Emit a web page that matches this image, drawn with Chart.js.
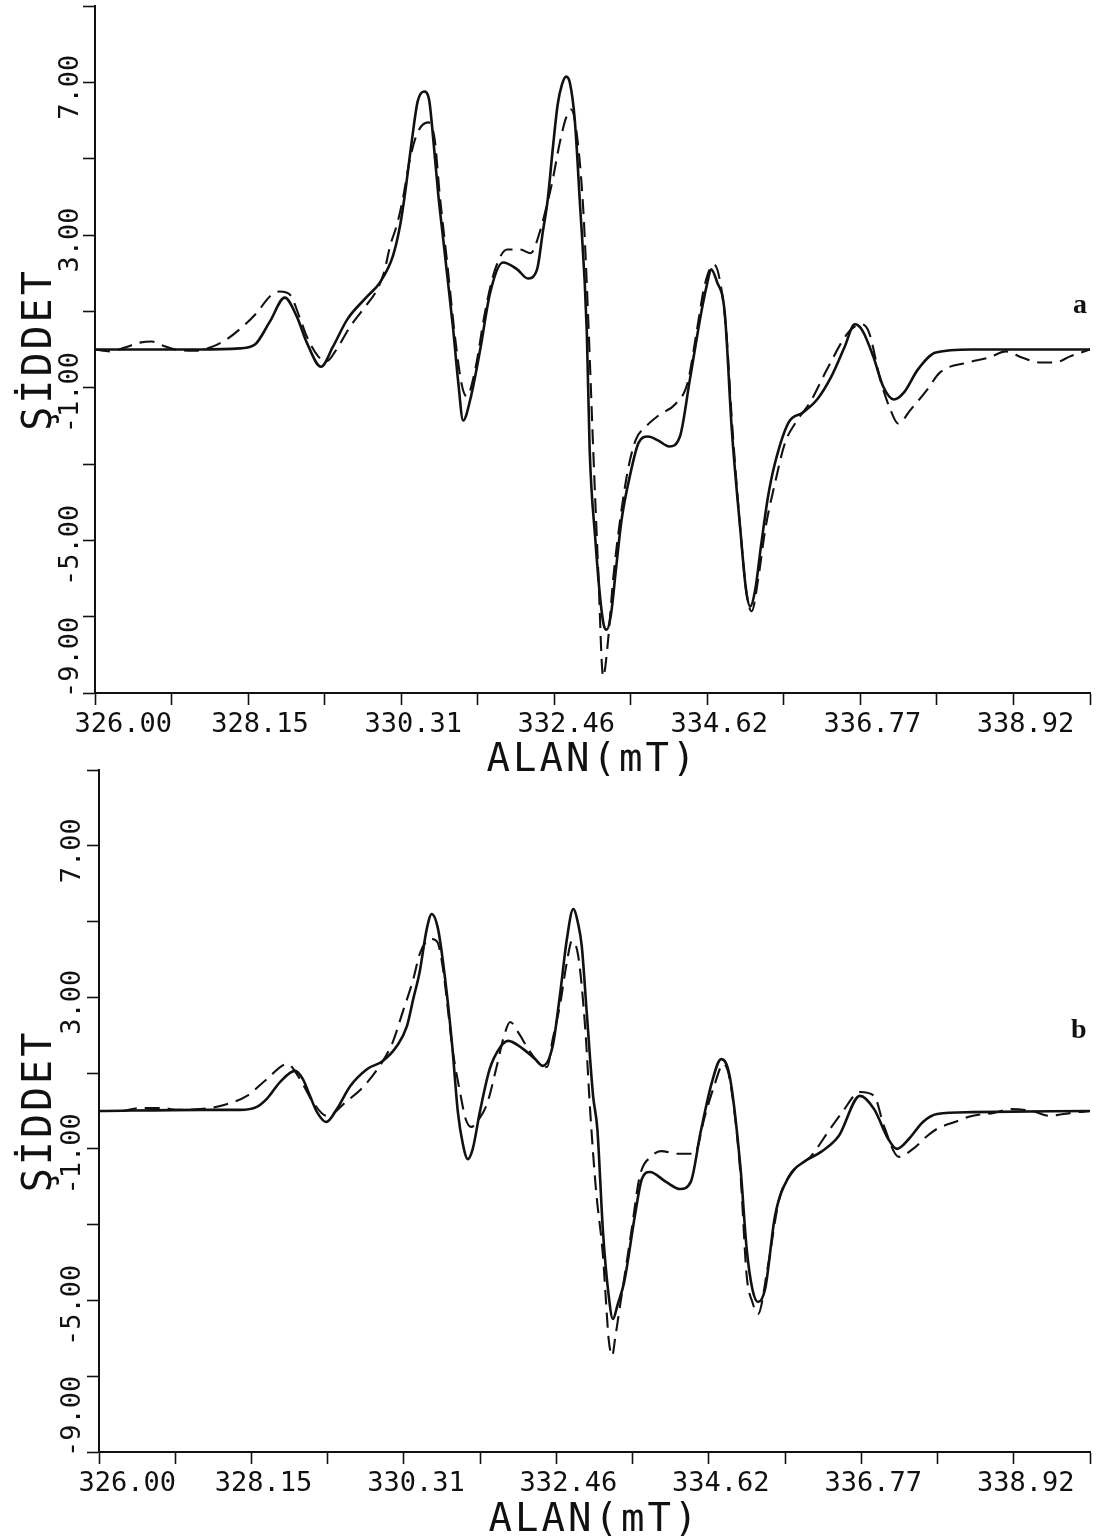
<!DOCTYPE html>
<html><head><meta charset="utf-8">
<script src="https://cdn.jsdelivr.net/npm/chart.js@4.4.1/dist/chart.umd.min.js"></script>
<style>
html,body{margin:0;padding:0;background:#fff;}
body{width:1103px;height:1537px;position:relative;overflow:hidden;}
#ca{position:absolute;left:0;top:0;}
#cb{position:absolute;left:0;top:760px;}
.tag{position:absolute;font:bold 28px "Liberation Serif","DejaVu Serif",serif;color:#111;line-height:1;}
</style></head><body>
<canvas id="ca" width="1103" height="780"></canvas>
<canvas id="cb" width="1103" height="777"></canvas>
<div class="tag" style="left:1073px;top:290px;">a</div>
<div class="tag" style="left:1071px;top:1015px;">b</div>
<script>
// ---- data (field in mT, intensity) ----
const aFieldSolid = [326.00,327.48,328.04,328.25,328.46,328.67,328.84,328.98,329.18,329.35,329.55,329.83,330.01,330.19,330.29,330.36,330.46,330.54,330.63,330.70,330.76,330.83,330.90,330.95,331.04,331.11,331.18,331.28,331.42,331.56,331.74,331.94,332.09,332.22,332.30,332.37,332.44,332.51,332.57,332.63,332.68,332.75,332.82,332.92,332.96,333.04,333.11,333.16,333.20,333.26,333.33,333.41,333.53,333.65,333.78,333.92,334.08,334.23,334.37,334.53,334.61,334.67,334.75,334.86,334.96,335.08,335.16,335.22,335.29,335.37,335.47,335.57,335.76,335.96,336.16,336.36,336.55,336.69,336.79,336.95,337.09,337.24,337.38,337.58,337.83,338.33,340.00];
const aSignalSolid = [0,0,0.03,0.13,0.73,1.36,0.86,0.18,-0.45,0.08,0.79,1.39,1.76,2.44,3.22,4.06,5.50,6.50,6.76,6.55,5.50,4.06,2.88,2.04,0.52,-0.84,-1.86,-1.31,0.00,1.49,2.28,2.10,1.86,2.10,3.07,3.93,5.24,6.42,6.94,7.15,7.00,6.03,3.93,0.45,-2.62,-4.98,-6.55,-7.23,-7.34,-6.94,-5.76,-4.45,-3.28,-2.44,-2.28,-2.38,-2.54,-2.28,-0.79,0.97,1.70,2.10,1.78,0.97,-2.10,-4.72,-6.29,-6.73,-6.29,-5.16,-3.85,-2.96,-1.91,-1.65,-1.31,-0.71,0.08,0.66,0.52,-0.18,-0.97,-1.31,-1.13,-0.52,-0.08,0,0];
const aFieldDashed = [326.00,326.21,326.42,326.63,326.80,326.96,327.13,327.41,327.62,327.83,328.08,328.28,328.46,328.60,328.74,328.88,328.98,329.14,329.26,329.38,329.59,329.77,329.97,330.07,330.15,330.25,330.33,330.43,330.54,330.69,330.78,330.85,330.95,331.07,331.16,331.23,331.35,331.49,331.63,331.80,331.98,332.13,332.26,332.36,332.44,332.54,332.63,332.70,332.78,332.87,332.94,333.01,333.08,333.15,333.22,333.29,333.39,333.50,333.61,333.74,333.95,334.16,334.34,334.47,334.58,334.71,334.79,334.88,334.96,335.08,335.17,335.24,335.33,335.43,335.57,335.71,335.86,336.06,336.30,336.60,336.78,336.89,337.05,337.19,337.30,337.48,337.71,337.89,338.28,338.58,338.82,339.04,339.31,339.51,339.72,340.00];
const aSignalDashed = [0,-0.05,0.05,0.18,0.21,0.10,0,-0.03,0.05,0.24,0.60,0.97,1.39,1.52,1.44,0.84,0.34,-0.18,-0.31,-0.05,0.60,1.05,1.57,2.04,2.70,3.28,3.93,4.98,5.69,5.95,5.50,4.06,2.36,0.26,-0.92,-1.23,-0.52,1.00,2.10,2.62,2.62,2.52,3.09,3.80,4.45,5.42,6.08,6.29,5.63,3.67,0.79,-2.62,-5.76,-8.57,-7.60,-6.03,-4.45,-3.14,-2.36,-2.04,-1.70,-1.44,-0.86,0.52,1.70,2.23,1.83,0.52,-1.83,-4.72,-6.42,-6.86,-6.03,-4.72,-3.48,-2.44,-1.91,-1.39,-0.52,0.45,0.66,0.45,-0.79,-1.57,-1.94,-1.57,-1.05,-0.60,-0.34,-0.21,-0.05,-0.21,-0.34,-0.34,-0.18,0];

const bFieldSolid = [326.00,327.43,327.99,328.23,328.37,328.56,328.77,328.88,328.98,329.08,329.21,329.36,329.55,329.79,330.01,330.21,330.35,330.44,330.53,330.63,330.70,330.79,330.89,330.99,331.07,331.14,331.21,331.28,331.38,331.52,331.67,331.78,331.99,332.16,332.27,332.41,332.51,332.61,332.70,332.77,332.82,332.89,332.98,333.04,333.12,333.19,333.26,333.33,333.42,333.57,333.67,333.78,334.01,334.21,334.36,334.50,334.66,334.79,334.91,335.06,335.15,335.23,335.31,335.41,335.55,335.75,335.95,336.20,336.45,336.75,336.95,337.15,337.27,337.44,337.64,337.84,338.33,340.00];
const bSignalSolid = [0,0.03,0.03,0.11,0.32,0.77,1.06,0.84,0.40,-0.03,-0.29,0.05,0.66,1.11,1.32,1.72,2.24,2.96,3.67,4.80,5.20,4.80,3.48,1.72,-0.03,-0.87,-1.27,-1.00,-0.03,1.11,1.69,1.85,1.64,1.37,1.19,1.72,3.03,4.54,5.33,4.93,4.35,2.61,0.40,-0.47,-3.19,-4.70,-5.49,-5.09,-4.51,-2.77,-1.79,-1.61,-1.87,-2.06,-1.87,-0.55,0.77,1.37,0.92,-1.45,-3.64,-4.70,-5.04,-4.70,-2.77,-1.72,-1.35,-1.08,-0.66,0.40,0.05,-0.74,-1.00,-0.74,-0.29,-0.08,-0.03,0];
const bFieldDashed = [326.00,326.30,326.58,326.86,327.14,327.43,327.71,328.09,328.37,328.66,328.84,329.02,329.22,329.50,329.73,330.00,330.15,330.29,330.44,330.53,330.63,330.70,330.78,330.86,331.00,331.10,331.18,331.26,331.35,331.48,331.62,331.71,331.81,331.92,332.09,332.23,332.33,332.41,332.51,332.61,332.68,332.77,332.87,332.94,333.02,333.12,333.16,333.20,333.25,333.29,333.36,333.52,333.64,333.81,333.94,334.17,334.41,334.56,334.69,334.82,334.91,335.06,335.15,335.23,335.31,335.45,335.61,335.80,336.06,336.30,336.50,336.75,336.95,337.09,337.30,337.50,337.70,337.84,338.09,338.33,338.64,338.88,339.18,339.43,339.63,339.83,340.00];
const bSignalDashed = [0,0,0.08,0.08,0.03,0.05,0.13,0.40,0.84,1.24,0.84,0.24,-0.13,0.26,0.63,1.29,1.82,2.61,3.48,4.14,4.49,4.54,4.46,3.75,1.56,0.50,-0.21,-0.42,-0.26,0.18,1.19,1.90,2.35,2.08,1.56,1.24,1.16,1.90,2.77,3.93,4.49,4.09,2.16,-0.03,-2.06,-3.83,-4.96,-6.02,-6.46,-6.02,-5.15,-3.19,-1.72,-1.19,-1.06,-1.13,-1.13,-0.13,0.66,1.24,0.84,-1.61,-4.35,-5.04,-5.36,-4.09,-2.32,-1.61,-1.19,-0.55,-0.03,0.50,0.40,-0.40,-1.21,-1.00,-0.66,-0.47,-0.29,-0.13,-0.05,0.05,0,-0.13,-0.08,-0.03,0];

const xTicks = [326,327.0769,328.1538,329.2308,330.3077,331.3846,332.4615,333.5385,334.6154,335.6923,336.7692,337.8462,338.9231,340];
const xTickLabels = ['  326.00','','328.15','','330.31','','332.46','','334.62','','336.77','','338.92',''];
const yTicks = [-9,-7,-5,-3,-1,1,3,5,7,9];
const yTickLabels = ['     -9.00','','-5.00','','-1.00','','3.00','','7.00',''];
const xTitle = 'ALAN(mT)';
const yTitle = 'ŞİDDET';

function pts(xs, ys) {
  const n = Math.min(xs.length, ys.length);
  const out = [];
  for (let i = 0; i < n; i++) out.push({x: xs[i], y: ys[i]});
  return out;
}

const spacingPlugin = {
  id: 'titleSpacing',
  beforeDraw(chart) {
    Object.values(chart.scales).forEach(s => {
      if (s._spaced) return;
      const orig = s.drawTitle;
      s.drawTitle = function () {
        const c = this.ctx; c.save(); c.letterSpacing = '3px'; orig.call(this); c.restore();
      };
      s._spaced = true;
    });
  }
};

const MONO = '"DejaVu Sans Mono", "Liberation Mono", monospace';

function build(canvasId, sx, sy, dx, dy, geo) {
  return new Chart(document.getElementById(canvasId), {
    type: 'line',
    data: {
      datasets: [
        {data: pts(sx, sy), borderColor: '#111', borderWidth: 2.6, pointRadius: 0, cubicInterpolationMode: 'monotone', fill: false},
        {data: pts(dx, dy), borderColor: '#111', borderWidth: 2.1, borderDash: [15, 8], pointRadius: 0, cubicInterpolationMode: 'monotone', fill: false}
      ]
    },
    options: {
      responsive: false, animation: false, devicePixelRatio: 1,
      layout: {padding: {top: geo.top, right: geo.right, left: 0, bottom: 0}},
      plugins: {legend: {display: false}, tooltip: {enabled: false}},
      scales: {
        x: {
          type: 'linear', min: 326, max: 340,
          afterBuildTicks: s => { s.ticks = xTicks.map(v => ({value: v})); },
          afterFit: s => { s.height = geo.xh; },
          ticks: {autoSkip: false, maxRotation: 0, minRotation: 0, padding: 4, labelOffset: 12,
                  color: '#111', font: {family: MONO, size: 27},
                  callback: (v, i) => xTickLabels[i]},
          grid: {drawOnChartArea: false, drawTicks: true, tickLength: 12, tickWidth: 1.6, tickColor: '#111'},
          border: {display: true, color: '#111', width: 2},
          title: {display: true, text: xTitle, color: '#111', font: {family: MONO, size: 39, lineHeight: 1},
                  padding: {top: 0, bottom: geo.xtp}}
        },
        y: {
          type: 'linear', min: -9, max: 9,
          afterBuildTicks: s => { s.ticks = yTicks.map(v => ({value: v})); },
          afterFit: s => { s.width = geo.yw; },
          ticks: {autoSkip: false, minRotation: 90, maxRotation: 90, crossAlign: 'center', padding: geo.ytp, labelOffset: 5,
                  color: '#111', font: {family: MONO, size: 27},
                  callback: (v, i) => yTickLabels[i]},
          grid: {drawOnChartArea: false, drawTicks: true, tickLength: 12, tickWidth: 1.6, tickColor: '#111'},
          border: {display: true, color: '#111', width: 2},
          title: {display: true, text: yTitle, color: '#111', font: {family: MONO, size: 40, lineHeight: 1},
                  padding: {top: 21, bottom: 0}}
        }
      }
    },
    plugins: [spacingPlugin]
  });
}

build('ca', aFieldSolid, aSignalSolid, aFieldDashed, aSignalDashed,
      {top: 6, right: 13, xh: 87, yw: 95, xtp: 0, ytp: -69});
build('cb', bFieldSolid, bSignalSolid, bFieldDashed, bSignalDashed,
      {top: 10, right: 13, xh: 85, yw: 99, xtp: -3, ytp: -67});
</script>
</body></html>
